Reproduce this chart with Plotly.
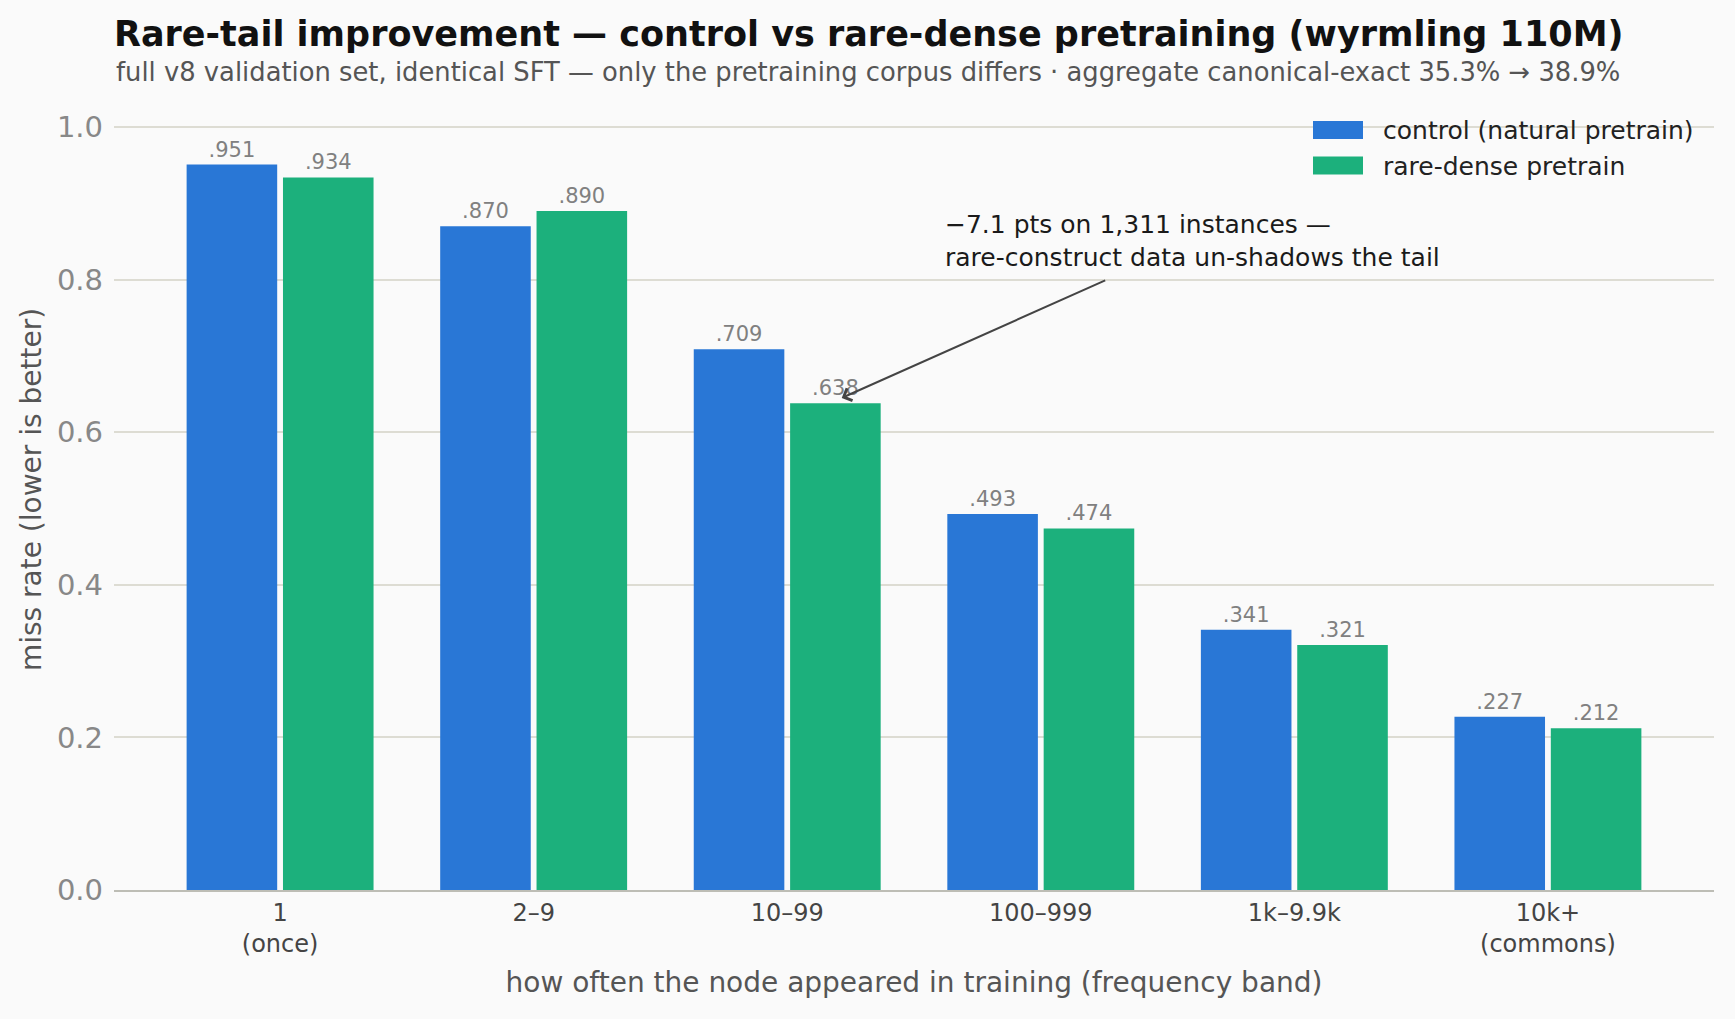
import plotly.graph_objects as go

bands = ["1<br>(once)", "2–9", "10–99", "100–999", "1k–9.9k", "10k+<br>(commons)"]
control = [0.951, 0.870, 0.709, 0.493, 0.341, 0.227]
rare_dense = [0.934, 0.890, 0.638, 0.474, 0.321, 0.212]
series_names = ["control (natural pretrain)", "rare-dense pretrain"]
yticks = [0.0, 0.2, 0.4, 0.6, 0.8, 1.0]

BLUE = "#2977D6"
GREEN = "#1CB07C"
FONT = "DejaVu Sans"

# plot-area geometry (pixels) used only to place layout items
PL, PR, PT, PB = 114, 1714, 89, 890


def lab(v):
    return f"{v:.3f}".lstrip("0")


def px_x(x):
    return (x - PL) / (PR - PL)


def px_y(y):
    return (PB - y) / (PB - PT)


fig = go.Figure()
for name, vals, col in [(series_names[0], control, BLUE), (series_names[1], rare_dense, GREEN)]:
    fig.add_trace(go.Bar(
        x=bands, y=vals, name=name, marker=dict(color=col, line=dict(width=0)),
        text=[lab(v) for v in vals], textposition="outside",
        textfont=dict(family=FONT, size=21, color="#808080"),
        cliponaxis=False,
    ))

fig.update_layout(
    width=1735, height=1019,
    paper_bgcolor="#FAFAFA", plot_bgcolor="#FAFAFA",
    margin=dict(l=PL, r=1735 - PR, t=PT, b=1019 - PB, autoexpand=False),
    barmode="group", bargap=0.24, bargroupgap=0.06,
    font=dict(family=FONT, color="#444444"),
    title=dict(
        text="Rare-tail improvement — control vs rare-dense pretraining (wyrmling 110M)",
        x=PL / 1735, xanchor="left", xref="container",
        y=1 - 34 / 1019, yanchor="middle", yref="container",
        font=dict(family=FONT, size=35, color="#111111", weight="bold"),
    ),
    showlegend=True,
    legend=dict(
        x=px_x(1293), xanchor="left", y=px_y(106.5), yanchor="top",
        bgcolor="rgba(0,0,0,0)", font=dict(family=FONT, size=25, color="#222222"),
        itemwidth=80,
    ),
    xaxis=dict(
        range=[-0.655, 5.655], showgrid=False, ticks="",
        tickfont=dict(family=FONT, size=24, color="#444444"),
        showline=True, linecolor="#BDBDB5", linewidth=2,
        ticklabelstandoff=0,
        title=dict(text="how often the node appeared in training (frequency band)",
                   font=dict(family=FONT, size=28, color="#555555"), standoff=15),
    ),
    yaxis=dict(
        range=[0, 1.05], tickvals=yticks, ticktext=[f"{t:.1f}" for t in yticks],
        showgrid=True, gridcolor="#DDDCD3", gridwidth=1.5, zeroline=False,
        showline=False, ticks="",
        tickfont=dict(family=FONT, size=29, color="#888888"),
        ticklabelstandoff=10,
        title=dict(text="miss rate (lower is better)",
                   font=dict(family=FONT, size=28, color="#555555"), standoff=7),
    ),
)

# wide legend swatches drawn over the native legend symbols
for cy, col in [(130, BLUE), (165.5, GREEN)]:
    fig.add_shape(type="rect", xref="paper", yref="paper",
                  x0=px_x(1313), x1=px_x(1363), y0=px_y(cy - 9), y1=px_y(cy + 9),
                  fillcolor=col, line=dict(width=0), layer="above")

fig.add_annotation(
    text="full v8 validation set, identical SFT — only the pretraining corpus differs · aggregate canonical-exact 35.3% → 38.9%",
    xref="paper", yref="paper", x=0, y=px_y(72), xanchor="left", yanchor="middle",
    showarrow=False, font=dict(family=FONT, size=25.8, color="#555555"),
)

fig.add_annotation(
    text="−7.1 pts on 1,311 instances —<br>rare-construct data un-shadows the tail",
    xref="x", yref="y", x=2.615, y=0.851, xanchor="left", yanchor="middle", align="left",
    showarrow=False, font=dict(family=FONT, size=25, color="#1A1A1A"),
)
fig.add_annotation(
    text="", xref="x", yref="y", x=2.215, y=0.645,
    axref="x", ayref="y", ax=3.26, ay=0.80,
    showarrow=True, arrowhead=4, arrowsize=1.3, arrowwidth=2, arrowcolor="#444444",
)

fig.write_html("out.html")
